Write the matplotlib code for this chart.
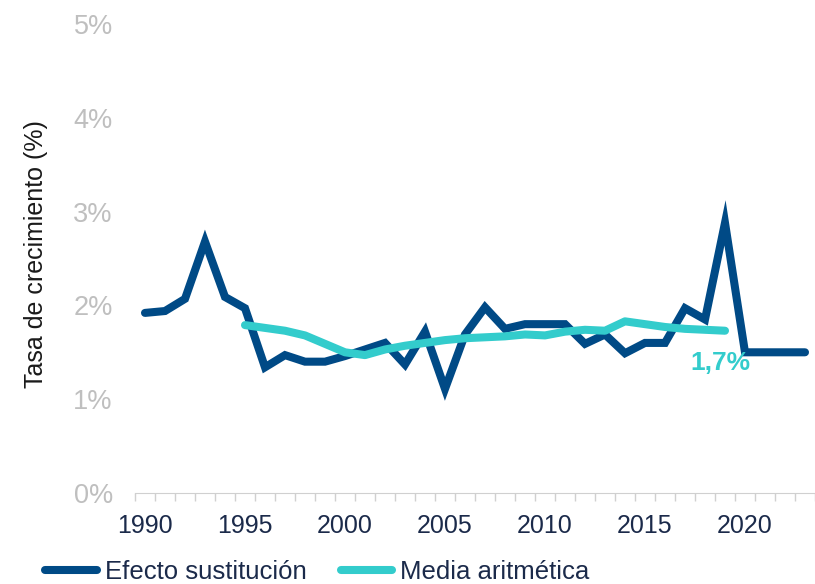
import matplotlib.pyplot as plt
import numpy as np

plt.rcParams['font.family'] = ['Liberation Sans', 'DejaVu Sans']

# datos
years = list(range(1990, 2024))
efecto = [1.92, 1.94, 2.07, 2.68, 2.09, 1.97, 1.34, 1.47, 1.40, 1.40,
          1.46, 1.53, 1.60, 1.37, 1.72, 1.11, 1.69, 1.98, 1.75, 1.80,
          1.80, 1.80, 1.59, 1.69, 1.49, 1.60, 1.60, 1.97, 1.85, 2.88,
          1.50, 1.50, 1.50, 1.50]
media_years = list(range(1995, 2020))
media = [1.79, 1.76, 1.73, 1.68, 1.59, 1.50, 1.47, 1.53, 1.57, 1.60,
         1.63, 1.65, 1.66, 1.67, 1.69, 1.68, 1.72, 1.74, 1.73, 1.83,
         1.80, 1.77, 1.75, 1.74, 1.73]
yticks = [0, 1, 2, 3, 4, 5]
label_years = [1990, 1995, 2000, 2005, 2010, 2015, 2020]

azul = '#004A86'
turquesa = '#33CCCC'
gris = '#BFBFBF'
texto = '#1B2A4A'

fig = plt.figure(figsize=(8.15, 5.84), dpi=100)
ax = fig.add_axes([135 / 815, 91 / 584, 680 / 815, 469 / 584])

x = np.arange(len(years))
xm = np.array([years.index(y) for y in media_years])

ax.plot(x, efecto, color=azul, lw=5.8, solid_joinstyle='miter', solid_capstyle='round',
        label='Efecto sustitución', clip_on=False)
ax.plot(xm, media, color=turquesa, lw=5.8, solid_capstyle='round',
        label='Media aritmética')

# etiqueta del valor medio
ax.text(xm[-1] - 1.75, media[-1] - 0.22, '1,7%', color=turquesa, fontsize=19,
        fontweight='bold', ha='left', va='top')

ax.set_xlim(-0.5, len(years) - 0.5)
ax.set_ylim(0, 5)
ax.set_yticks(yticks)
ax.set_yticklabels([f'{v}%' for v in yticks])
ax.tick_params(axis='y', length=0, pad=16, labelsize=19.5, labelcolor=gris)

ax.set_xticks([years.index(y) for y in label_years])
ax.set_xticklabels([str(y) for y in label_years])
ax.set_xticks(np.arange(-0.5, len(years), 1), minor=True)
ax.tick_params(axis='x', which='major', length=0, pad=15, labelsize=18, labelcolor=texto)
ax.tick_params(axis='x', which='minor', length=6, color='#D0D0D0', width=1)

for s in ['top', 'right', 'left']:
    ax.spines[s].set_visible(False)
ax.spines['bottom'].set_color('#D0D0D0')

ax.set_ylabel('Tasa de crecimiento (%)', fontsize=18, color='#1A1A1A')
ax.yaxis.set_label_coords(-0.128, 0.51)

fig.legend(loc='lower left', bbox_to_anchor=(30 / 815, -0.026), ncol=2, frameon=False,
           fontsize=18.5, handlelength=2.0, handletextpad=0.3, columnspacing=1.35,
           borderpad=0.1, labelcolor=texto)

fig.savefig('out.png', dpi=100)
